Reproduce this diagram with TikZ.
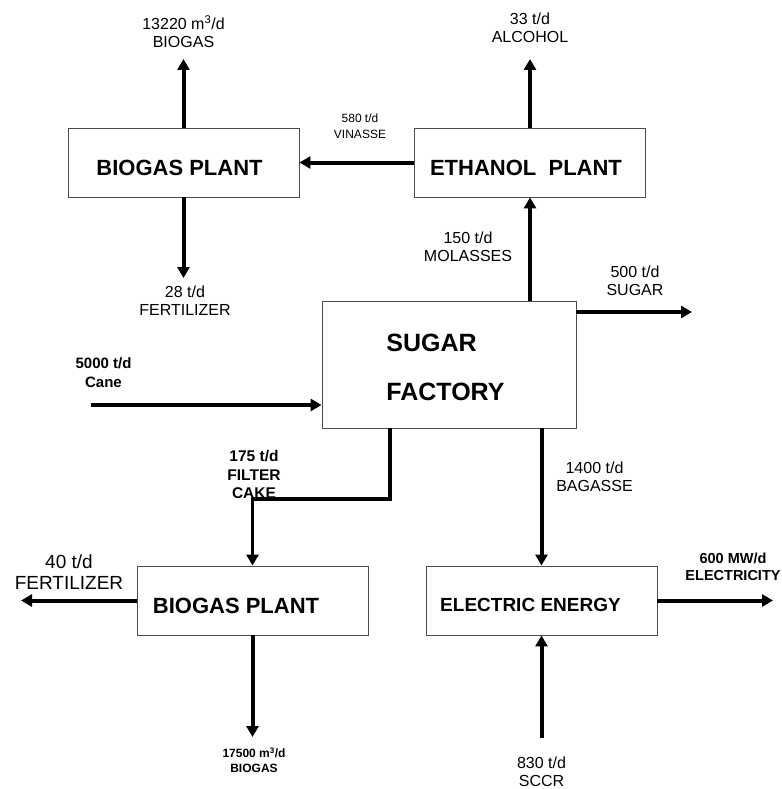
\documentclass[tikz,border=0pt]{standalone}
\usepackage{fontspec}
\setmainfont{Liberation Sans}
\usetikzlibrary{arrows.meta,positioning}

\begin{document}
\begin{tikzpicture}[
  x=1pt, y=-1pt,
  >={Triangle[length=11pt,width=12pt]},
  basic/.style   = {draw=black!70, line width=0.9pt, rectangle, inner sep=0pt},
  plant/.style   = {basic, minimum width=231pt, minimum height=69pt},
  factory/.style = {basic, minimum width=254pt, minimum height=127pt},
  heading/.style = {inner sep=0pt, font=\fontsize{22}{26}\selectfont\bfseries},
  lbl/.style     = {align=center, inner sep=0pt, font=\fontsize{16}{18}\selectfont},
  flow/.style    = {->, line width=4pt}]

\useasboundingbox (0,0) rectangle (781,789);

% the process blocks
\node[plant] (bp1) at (183.5,162.5) {};
\node[plant] (ep)  at (530,162.5) {};
\node[factory] (sf) at (449,364.5) {};
\node[plant] (bp2) at (252.5,600.5) {};
\node[plant] (ee)  at (541.5,600.5) {};

% block titles
\node[heading] at (179.5,168) {BIOGAS PLANT};
\node[heading] at (526,167.5) {ETHANOL\ \ PLANT};
\node[heading, font=\fontsize{25}{49}\selectfont\bfseries, align=left] at (445.5,367.5) {SUGAR\\FACTORY};
\node[heading] at (236,606) {BIOGAS PLANT};
\node[heading, font=\fontsize{19}{22}\selectfont\bfseries] at (530.5,604.5) {ELECTRIC ENERGY};

% free ends of the streams
\coordinate (bgtop)   at (183.5,59);
\coordinate (fert1)   at (183.5,278);
\coordinate (alctop)  at (530,59);
\coordinate (sugend)  at (692,312);
\coordinate (canein)  at (91,405);
\coordinate (fcbend)  at (390,499);
\coordinate (fert2)   at (21,600.5);
\coordinate (bgbot)   at (252.5,737);
\coordinate (elend)   at (773,600.5);
\coordinate (sccrin)  at (541.5,738);

% streams
\draw[flow] (bp1.north) -- (bgtop);
\draw[flow] (bp1.south) -- (fert1);
\draw[flow] (ep.west) -- (bp1.east);
\draw[flow] (ep.north) -- (alctop);
\draw[flow] (ep.south |- sf.north) -- (ep.south);
\draw[flow] (sugend -| sf.east) -- (sugend);
\draw[flow] (canein) -- (canein -| sf.west);
\draw[flow, line width=3.5pt] (fcbend |- sf.south) -- (fcbend) -| (bp2.north);
\draw[flow] (ee.north |- sf.south) -- (ee.north);
\draw[flow] (bp2.west) -- (fert2);
\draw[flow] (bp2.south) -- (bgbot);
\draw[flow] (ee.east) -- (elend);
\draw[flow] (sccrin) -- (ee.south);

% stream labels
\begin{scope}[every node/.style={lbl}]
\node (l1)  at (183.5,32)    {13220 m\textsuperscript{3}/d\\BIOGAS};
\node (l2)  at (185,301)     {28 t/d\\FERTILIZER};
\node[font=\fontsize{12}{16}\selectfont] (l3) at (360,126.5) {580 t/d\\VINASSE};
\node (l4)  at (530,28)      {33 t/d\\ALCOHOL};
\node (l5)  at (468,246.5)   {150 t/d\\MOLASSES};
\node (l6)  at (635,280.5)   {500 t/d\\SUGAR};
\node[font=\fontsize{15}{19}\selectfont\bfseries] (l7) at (103.5,372.5) {5000 t/d\\Cane};
\node[font=\fontsize{15.5}{18.5}\selectfont\bfseries] (l8) at (254,474.5) {175 t/d\\FILTER\\CAKE};
\node (l9)  at (594.5,477)   {1400 t/d\\BAGASSE};
\node[font=\fontsize{19}{21}\selectfont] (l10) at (69,572.5) {40 t/d\\FERTILIZER};
\node[font=\fontsize{12}{15}\selectfont\bfseries] (l11) at (254,760.5) {17500 m\textsuperscript{3}/d\\BIOGAS};
\node[font=\fontsize{14.5}{17}\selectfont\bfseries] (l12) at (733,566.5) {600 MW/d\\ELECTRICITY};
\node (l13) at (541.5,771.5) {830 t/d\\SCCR};
\end{scope}
\end{tikzpicture}
\end{document}
